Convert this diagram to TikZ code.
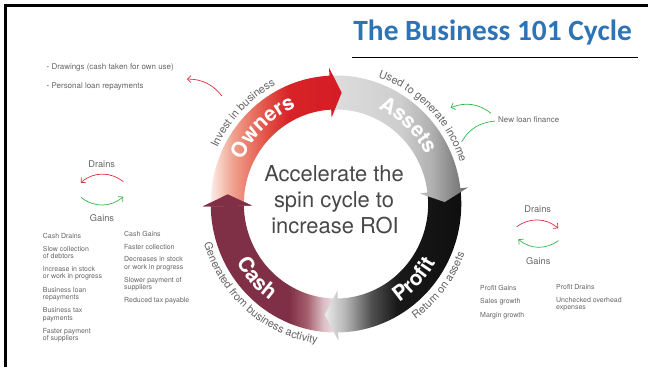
\documentclass[tikz,border=0pt]{standalone}
\usepackage{fontspec}
\setmainfont{TeX Gyre Heros}
\newfontfamily\carlito{Carlito}
\usetikzlibrary{decorations.text, arrows.meta}

\definecolor{titleblue}{RGB}{46,116,181}
\definecolor{txtgray}{RGB}{100,100,100}
\definecolor{ctrgray}{RGB}{72,72,72}
\definecolor{ringgray}{RGB}{100,100,100}
\definecolor{arrred}{RGB}{222,45,60}
\definecolor{arrgreen}{RGB}{55,180,75}
\definecolor{ow0}{RGB}{251,240,236}
\definecolor{ow1}{RGB}{240,160,140}
\definecolor{ow2}{RGB}{226,80,70}
\definecolor{ow3}{RGB}{215,35,40}
\definecolor{ow4}{RGB}{212,28,36}
\definecolor{as0}{RGB}{222,222,222}
\definecolor{as1}{RGB}{206,206,206}
\definecolor{as2}{RGB}{178,178,178}
\definecolor{as3}{RGB}{105,105,105}
\definecolor{pr0}{RGB}{235,235,235}
\definecolor{pr1}{RGB}{180,180,180}
\definecolor{pr2}{RGB}{80,80,80}
\definecolor{pr3}{RGB}{25,25,25}
\definecolor{pr4}{RGB}{14,14,14}
\definecolor{ca0}{RGB}{128,48,70}
\definecolor{ca2}{RGB}{165,95,110}
\definecolor{ca3}{RGB}{220,190,198}
\definecolor{ca4}{RGB}{242,230,232}

\pgfdeclarehorizontalshading{ownsh}{100bp}{color(0bp)=(ow0); color(25bp)=(ow0); color(34bp)=(ow1); color(46.5bp)=(ow2); color(55bp)=(ow3); color(75bp)=(ow4); color(100bp)=(ow4)}
\pgfdeclarehorizontalshading{assh}{100bp}{color(0bp)=(as0); color(25bp)=(as0); color(50.5bp)=(as1); color(61.5bp)=(as2); color(75bp)=(as3); color(100bp)=(as3)}
\pgfdeclarehorizontalshading{prsh}{100bp}{color(0bp)=(pr0); color(25bp)=(pr0); color(32.5bp)=(pr1); color(41.5bp)=(pr2); color(50.5bp)=(pr3); color(75bp)=(pr4); color(100bp)=(pr4)}
\pgfdeclarehorizontalshading{cash}{100bp}{color(0bp)=(ca0); color(25bp)=(ca0); color(57bp)=(ca0); color(63.5bp)=(ca2); color(69.5bp)=(ca3); color(75bp)=(ca4); color(100bp)=(ca4)}

\def\Ro{128.5}
\def\Ri{94.5}
\def\Rm{111.5}
\def\Rho{136.5}
\def\Rhi{86.5}

\tikzset{
  seg/.style n args={3}{insert path={(#1:\Ro) arc[start angle=#1, end angle=#2, radius=\Ro] -- (#2:\Rho) -- (#3:\Rm) -- (#2:\Rhi) -- (#2:\Ri) arc[start angle=#2, end angle=#1, radius=\Ri] -- cycle}},
  smalltxt/.style={font=\fontsize{7}{7.2}\selectfont, text=txtgray, align=left, anchor=west, inner sep=0pt},
  medtxt/.style={font=\fontsize{8}{9}\selectfont, text=txtgray, anchor=west, inner sep=0pt},
  dgtxt/.style={font=\fontsize{9.3}{10}\selectfont, text=txtgray, inner sep=0pt},
  ctrtxt/.style={font=\fontsize{22}{26}\selectfont, text=ctrgray, anchor=base, inner sep=0pt},
  redarr/.style={draw=arrred, line width=0.7pt, -{Straight Barb[length=3.5pt,width=7pt]}},
  greenarr/.style={draw=arrgreen, line width=0.7pt, -{Straight Barb[length=3.5pt,width=7pt]}},
  greenline/.style={draw=arrgreen, line width=0.7pt},
  ringtext/.style={decorate, decoration={text along path, text align=center, text color=white, text={|\bfseries\fontsize{21}{21}\selectfont|#1}}},
  outtext/.style={decorate, decoration={text along path, text align=center, text color=ringgray, text={|\fontsize{11}{11}\selectfont|#1}}},
}

\begin{document}
\begin{tikzpicture}[x=1bp, y=1bp]
\useasboundingbox (0,0) rectangle (648,367);

% frame
\coordinate (f1) at (5.3,0);
\coordinate (f2) at (5.3,361.7);
\coordinate (f3) at (648,361.7);
\draw[line width=2.6bp] (f1) -- (f2) -- (f3);

% title
\node[anchor=base east, inner sep=0pt, font=\carlito\bfseries\fontsize{29.5}{30}\selectfont, text=titleblue] (title) at (632,327) {The Business 101 Cycle};
\coordinate (ul1) at (352,309.5);
\coordinate (ul2) at (638,309.5);
\draw[line width=0.8bp] (ul1) -- (ul2);

% cycle ring
\begin{scope}[shift={(336,163)}, xscale=0.975]
  \shade[shading=cash, seg={-89}{-179}{-185}];
  \shade[shading=prsh, seg={7}{-89}{-96}];
  \shade[shading=assh, seg={93}{7}{1}];
  \shade[shading=ownsh, seg={181}{93}{87}];
  \begin{scope}
    \clip (-179:\Rho) -- (-185:\Rm) -- (-179:\Rhi) -- cycle;
    \shade[shading=cash, seg={-89}{-179}{-185}];
  \end{scope}
  % band labels
  \path[ringtext={Owners}] (174:105) arc[start angle=174, end angle=94, radius=105];
  \path[ringtext={Assets}] (87:105) arc[start angle=87, end angle=7, radius=105];
  \path[ringtext={Profit}] (-83.5:118) arc[start angle=-83.5, end angle=-3.5, radius=118];
  \path[ringtext={Cash}] (182.7:118) arc[start angle=182.7, end angle=262.7, radius=118];
  % outer labels
  \path[outtext={Invest in business}] (186:134) arc[start angle=186, end angle=86, radius=134];
  \path[outtext={Used to generate income}] (100:134) arc[start angle=100, end angle=-10, radius=134];
  \path[outtext={Return on assets}] (-88:141) arc[start angle=-88, end angle=12, radius=141];
  \path[outtext={Generated from business activity}] (169.5:141) arc[start angle=169.5, end angle=289.5, radius=141];
\end{scope}

% centre text
\node[ctrtxt] (ct1) at (334,186) {Accelerate the};
\node[ctrtxt] (ct2) at (334,160) {spin cycle to};
\node[ctrtxt] (ct3) at (335,134) {increase ROI};

% owners drains (top left)
\node[medtxt] (d1) at (46.5,300) {{\color{black!80}-} Drawings (cash taken for own use)};
\node[medtxt] (d2) at (46.5,281) {{\color{black!80}-} Personal loan repayments};
\coordinate (r1s) at (222,271);
\coordinate (r1e) at (187,288);
\draw[redarr] (r1s) to[bend right=25] (r1e);

% new loan finance
\node[medtxt] (nlf) at (498,247) {New loan finance};
\coordinate (g1s) at (491,253.7);
\coordinate (g1e) at (450.7,259.3);
\draw[greenarr] (g1s) to[bend right=30] (g1e);
\coordinate (g2s) at (495,246);
\coordinate (g2e) at (461.7,225.3);
\draw[greenline] (g2s) to[out=186, in=60] (g2e);

% left drains / gains
\node[dgtxt] (ldr) at (101.7,203) {Drains};
\node[dgtxt] (lga) at (102,148.7) {Gains};
\coordinate (lr1) at (123.3,185.3);
\coordinate (lr2) at (80.7,184.3);
\draw[redarr] (lr1) to[bend right=40] (lr2);
\coordinate (lg1) at (81,169.7);
\coordinate (lg2) at (123.3,170.3);
\draw[greenarr] (lg1) to[bend right=40] (lg2);

% right drains / gains
\node[dgtxt] (rdr) at (537.7,157.7) {Drains};
\node[dgtxt] (rga) at (538.3,106.3) {Gains};
\coordinate (rr1) at (516.7,140.3);
\coordinate (rr2) at (558.3,138.7);
\draw[redarr] (rr1) to[bend left=38] (rr2);
\coordinate (rg1) at (558.3,126.3);
\coordinate (rg2) at (518.3,127.7);
\draw[greenarr] (rg1) to[bend left=38] (rg2);

% cash drains column
\node[smalltxt] (c1a) at (42.7,131.3) {Cash Drains};
\node[smalltxt] (c1b) at (42.7,114.2) {Slow collection\\of debtors};
\node[smalltxt] (c1c) at (42.7,93.5) {Increase in stock\\or work in progress};
\node[smalltxt] (c1d) at (42.7,73) {Business loan\\repayments};
\node[smalltxt] (c1e) at (42.7,52.2) {Business tax\\payments};
\node[smalltxt] (c1f) at (42.7,31.7) {Faster payment\\of suppliers};
% cash gains column
\node[smalltxt] (c2a) at (124,133) {Cash Gains};
\node[smalltxt] (c2b) at (124,119.7) {Faster collection};
\node[smalltxt] (c2c) at (124,103.2) {Decreases in stock\\or work in progress};
\node[smalltxt] (c2d) at (124,83.2) {Slower payment of\\suppliers};
\node[smalltxt] (c2e) at (124,66.7) {Reduced tax payable};
% profit columns
\node[smalltxt] (p1a) at (480,79.3) {Profit Gains};
\node[smalltxt] (p1b) at (480,65.3) {Sales growth};
\node[smalltxt] (p1c) at (480,51) {Margin growth};
\node[smalltxt] (p2a) at (556,80.3) {Profit Drains};
\node[smalltxt] (p2b) at (556,63) {Unchecked overhead\\expenses};
\end{tikzpicture}
\end{document}
